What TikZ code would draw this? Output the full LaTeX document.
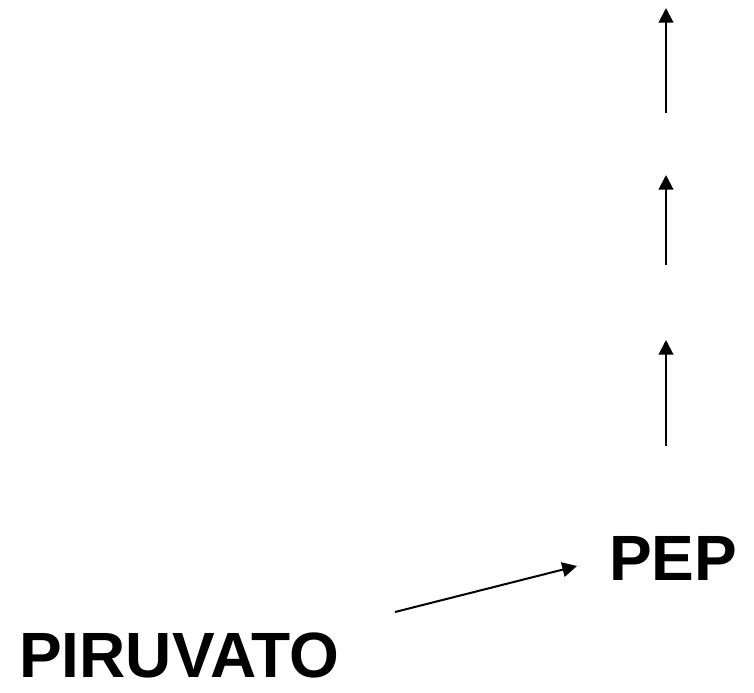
\documentclass[tikz,border=0pt]{standalone}
\usepackage{fontspec}
\setmainfont{Liberation Sans}
\usetikzlibrary{arrows.meta}
\begin{document}
\begin{tikzpicture}
		[x=0.75pt,y=-0.75pt,
			compound/.style={font=\fontsize{48}{52}\selectfont\bfseries,inner sep=0pt,anchor=base west},
			reaction/.style={-{Triangle[length=11pt,width=11pt]},line width=1.5pt}]
	\useasboundingbox (0,0) rectangle (754,693);
	\node[compound,name=piruvato] at (19,677) {PIRUVATO};
	\node[compound,name=pep] at (609,580) {PEP};
	\coordinate (s0) at (395,612);
	\coordinate (t0) at (577,566);
	\draw[reaction] (s0) -- (t0);
	\foreach \i/\a/\b in {1/446/340,2/265/175,3/113/8}
	{
		\coordinate (s\i) at (666,\a);
		\coordinate (t\i) at (666,\b);
		\draw[reaction] (s\i) -- (t\i);
	}
\end{tikzpicture}
\end{document}
